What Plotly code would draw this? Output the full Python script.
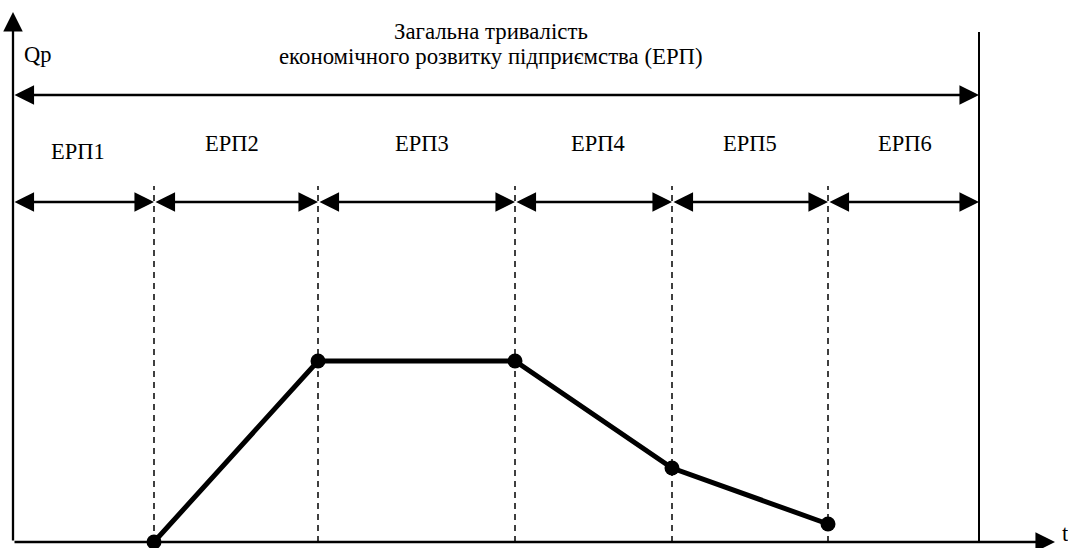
import plotly.graph_objects as go

# Stage boundaries along time axis (units from origin)
t_bounds = [0, 141, 305, 502, 659, 815, 966]
stage_labels = ["ЕРП1", "ЕРП2", "ЕРП3", "ЕРП4", "ЕРП5", "ЕРП6"]
# Qp curve
curve_t = [141, 305, 502, 659, 815]
curve_qp = [0, 181, 181, 74, 18]

title_lines = ["Загальна тривалість", "економічного розвитку підприємства (ЕРП)"]

# layout helpers (positions of decorations in data units)
label_x = [65, 219, 408.5, 584.5, 737, 892]
label_y = [390.5, 399, 399, 399, 399, 399]
axis_top = 530
x_axis_end = 1042
total_arrow_y = 447
stage_arrow_y = 340
dash_top = 356
right_line_top = 510

FONT = "Liberation Serif"
fig = go.Figure()

# dashed separators
for tb in t_bounds[1:-1]:
    fig.add_trace(go.Scatter(x=[tb, tb], y=[0, dash_top], mode="lines",
                             line=dict(color="black", width=1.5, dash="6px,5px"),
                             hoverinfo="skip", showlegend=False))
# right boundary
fig.add_trace(go.Scatter(x=[t_bounds[-1], t_bounds[-1]], y=[0, right_line_top], mode="lines",
                         line=dict(color="black", width=2), hoverinfo="skip", showlegend=False))
# curve
fig.add_trace(go.Scatter(x=curve_t, y=curve_qp, mode="lines+markers",
                         line=dict(color="black", width=5),
                         marker=dict(color="black", size=15),
                         hoverinfo="skip", showlegend=False, cliponaxis=False))

ann = []
arrow_common = dict(xref="x", yref="y", axref="x", ayref="y", text="",
                    showarrow=True, arrowcolor="black", arrowwidth=2.3,
                    arrowhead=2, arrowsize=1.7, startarrowhead=2, startarrowsize=1.7,
                    standoff=0, startstandoff=0)
# axes
ann.append(dict(x=0, y=axis_top, ax=0, ay=0, arrowside="end", **arrow_common))
ann.append(dict(x=x_axis_end, y=0, ax=0, ay=0, arrowside="end", **arrow_common))
# total arrow
ann.append(dict(x=t_bounds[-1], y=total_arrow_y, ax=t_bounds[0], ay=total_arrow_y,
                arrowside="end+start", **arrow_common))
# stage arrows
for a, b in zip(t_bounds[:-1], t_bounds[1:]):
    ann.append(dict(x=b, y=stage_arrow_y, ax=a, ay=stage_arrow_y,
                    arrowside="end+start", **arrow_common))

txt = dict(xref="x", yref="y", showarrow=False, font=dict(family=FONT, size=22.5, color="black"))
for lx, ly, lab in zip(label_x, label_y, stage_labels):
    ann.append(dict(x=lx, y=ly, text=lab, **txt))
mid = (t_bounds[0] + t_bounds[-1]) / 2
title_txt = dict(txt, font=dict(family=FONT, size=22.8, color="black"))
ann.append(dict(x=mid - 5, y=511, text=title_lines[0], **title_txt))
ann.append(dict(x=mid - 5, y=486, text=title_lines[1], **title_txt))
ann.append(dict(x=24.5, y=488, text="Qp", **txt))
ann.append(dict(x=1052, y=9, text="t", **txt))

fig.update_layout(
    width=1068, height=548,
    margin=dict(l=0, r=0, t=0, b=0),
    paper_bgcolor="white", plot_bgcolor="white",
    font=dict(family=FONT),
    xaxis=dict(range=[-13, 1055], visible=False, fixedrange=True),
    yaxis=dict(range=[-6, 542], visible=False, fixedrange=True),
    annotations=ann,
)
fig.write_html("out.html", config={"displayModeBar": False},
               post_script="document.body.style.margin='0';document.body.style.overflow='hidden';")
